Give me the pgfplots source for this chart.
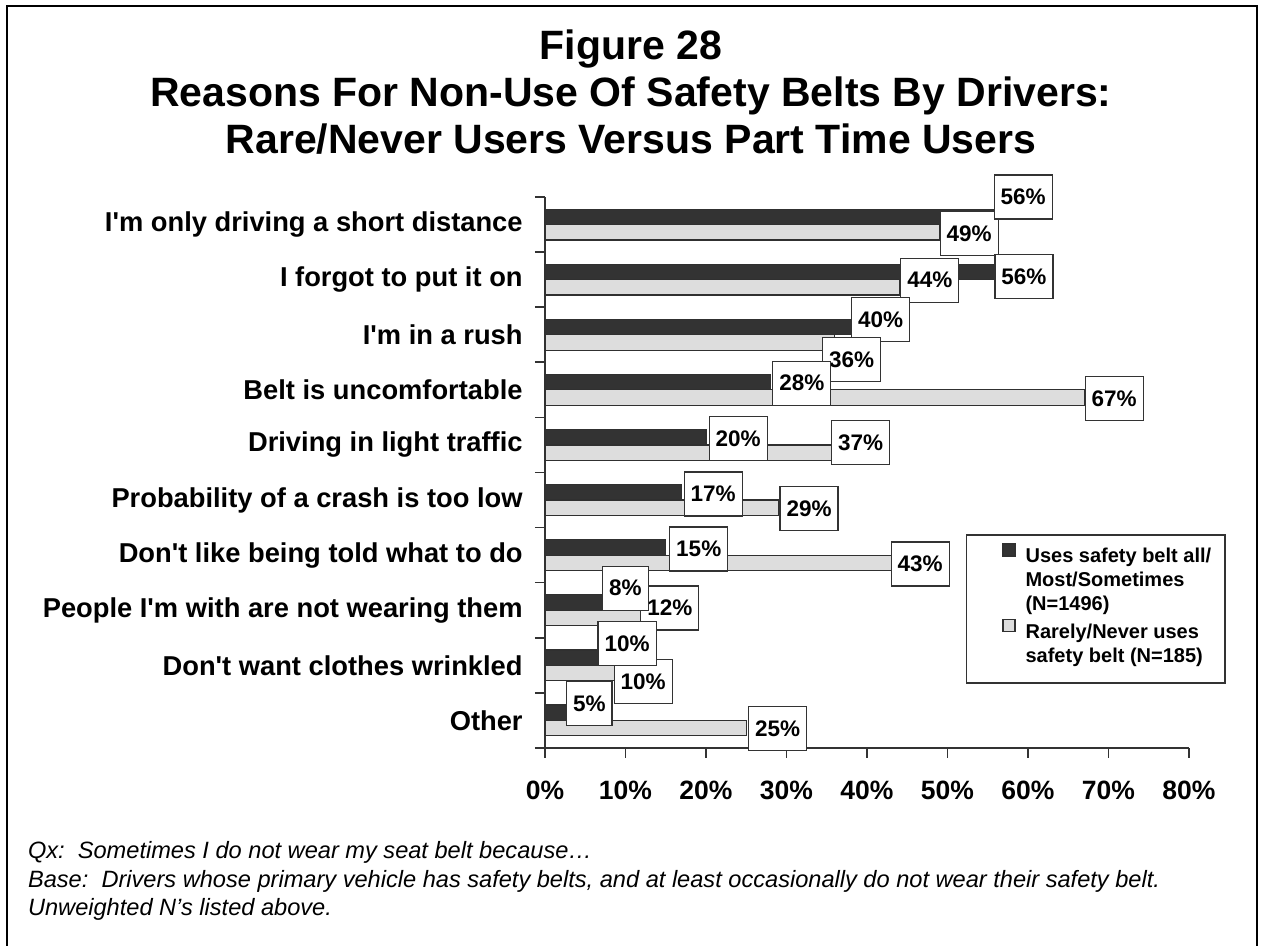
\documentclass[border=0pt]{standalone}
\usepackage{pgfplots}
\pgfplotsset{compat=1.18}
\usepackage{fontspec}
\setmainfont{Liberation Sans}
\definecolor{darkbar}{HTML}{333333}
\definecolor{lightbar}{HTML}{DDDDDD}
\definecolor{edge}{HTML}{303030}
\tikzset{lbl/.style={draw=black!80, fill=white, line width=0.6pt, font=\bfseries\fontsize{11.25}{13}\selectfont, inner xsep=3.25pt, inner ysep=0pt, minimum height=22pt}}
\begin{document}
\begin{tikzpicture}
\path[use as bounding box] (-272.5pt,-99pt) rectangle (358.5pt,374pt);
\draw[line width=0.9pt] (-269pt,-99.5pt) -- (-269pt,371pt) -- (356pt,371pt) -- (356pt,-99.5pt);
\node[font=\bfseries\fontsize{20.5}{24}\selectfont, anchor=base] at (43pt,344pt) {Figure 28};
\node[font=\bfseries\fontsize{20.5}{24}\selectfont, anchor=base] at (43pt,320.5pt) {Reasons For Non-Use Of Safety Belts By Drivers:};
\node[font=\bfseries\fontsize{20.5}{24}\selectfont, anchor=base] at (43pt,297pt) {Rare/Never Users Versus Part Time Users};
\node[font=\itshape\fontsize{11.8}{14}\selectfont, anchor=base west] at (-262pt,-55.5pt) {Qx:\ \ Sometimes I do not wear my seat belt because…};
\node[font=\itshape\fontsize{11.8}{14}\selectfont, anchor=base west] at (-262pt,-70pt) {Base:\ \ Drivers whose primary vehicle has safety belts, and at least occasionally do not wear their safety belt.};
\node[font=\itshape\fontsize{11.8}{14}\selectfont, anchor=base west] at (-262pt,-83.5pt) {Unweighted N’s listed above.};
\begin{axis}[
  at={(0pt,0pt)}, anchor=south west,
  scale only axis, width=322pt, height=275.5pt,
  xmin=0, xmax=80, ymin=-0.5, ymax=9.5,
  xbar, bar width=0.28,
  axis x line*=bottom, axis y line*=left,
  axis line style={black!80, line width=0.8pt},
  xtick={0,10,...,80},
  xticklabels={0\%,10\%,20\%,30\%,40\%,50\%,60\%,70\%,80\%},
  tick align=outside, major tick length=5pt,
  tick style={black!80, line width=0.8pt},
  ytick={-0.5,0.5,1.5,2.5,3.5,4.5,5.5,6.5,7.5,8.5,9.5}, yticklabels={},
  extra y ticks={0,1,2,3,4,5,6,7,8,9},
  extra y tick labels={Other,Don\textquotesingle t want clothes wrinkled,People I\textquotesingle m with are not wearing them,Don\textquotesingle t like being told what to do,Probability of a crash is too low,Driving in light traffic,Belt is uncomfortable,I\textquotesingle m in a rush,I forgot to put it on,I\textquotesingle m only driving a short distance},
  extra y tick style={tick style={draw=none}},
  yticklabel style={font=\bfseries\fontsize{13.65}{16}\selectfont, anchor=east, inner sep=0pt, xshift=-6pt},
  xticklabel style={font=\bfseries\fontsize{13.25}{16}\selectfont, anchor=north, inner sep=0pt, yshift=-11.5pt},
  clip=false,
  legend style={draw=none, fill=none, at={(rel axis cs:0.7096,0.372)}, anchor=north west,
    inner sep=0pt, nodes={inner sep=0pt, text height=7.5pt, text depth=2.5pt}, column sep=5pt, row sep=2pt,
    font=\bfseries\fontsize{10}{12}\selectfont},
  legend cell align=left,
  legend image code/.code={\draw[#1] (0pt,0.6pt) rectangle (6pt,6.6pt);},
]
\addplot[xbar, bar shift=0.14, fill=darkbar, draw=edge, line width=0.6pt] coordinates {(56,9) (56,8) (40,7) (28,6) (20,5) (17,4) (15,3) (8,2) (10,1) (5,0)};
\addlegendentry{Uses safety belt all/}
\addlegendimage{empty legend}
\addlegendentry{Most/Sometimes}
\addlegendimage{empty legend}
\addlegendentry{(N=1496)}
\addplot[xbar, bar shift=-0.14, fill=lightbar, draw=edge, line width=0.6pt] coordinates {(49,9) (44,8) (36,7) (67,6) (37,5) (29,4) (43,3) (12,2) (10,1) (25,0)};
\addlegendentry{Rarely/Never uses}
\addlegendimage{empty legend}
\addlegendentry{safety belt (N=185)}
\draw[black!80, line width=0.6pt] (rel axis cs:0.655,0.3866) rectangle (rel axis cs:1.056,0.118);
\node[lbl] at (axis cs:52.7,8.84) {49\%};
\node[lbl] at (axis cs:59.4,9.5) {56\%};
\node[lbl] at (axis cs:47.8,7.99) {44\%};
\node[lbl] at (axis cs:59.5,8.05) {56\%};
\node[lbl] at (axis cs:41.7,7.28) {40\%};
\node[lbl] at (axis cs:38.1,6.55) {36\%};
\node[lbl] at (axis cs:31.9,6.12) {28\%};
\node[lbl] at (axis cs:70.7,5.84) {67\%};
\node[lbl] at (axis cs:24.0,5.11) {20\%};
\node[lbl] at (axis cs:39.2,5.04) {37\%};
\node[lbl] at (axis cs:20.9,4.11) {17\%};
\node[lbl] at (axis cs:32.8,3.84) {29\%};
\node[lbl] at (axis cs:19.1,3.11) {15\%};
\node[lbl] at (axis cs:46.6,2.84) {43\%};
\node[lbl] at (axis cs:15.5,2.04) {12\%};
\node[lbl] at (axis cs:10.0,2.40) {8\%};
\node[lbl] at (axis cs:12.2,0.71) {10\%};
\node[lbl] at (axis cs:10.2,1.40) {10\%};
\node[lbl] at (axis cs:5.5,0.31) {5\%};
\node[lbl] at (axis cs:28.9,-0.15) {25\%};
\end{axis}
\end{tikzpicture}
\end{document}
